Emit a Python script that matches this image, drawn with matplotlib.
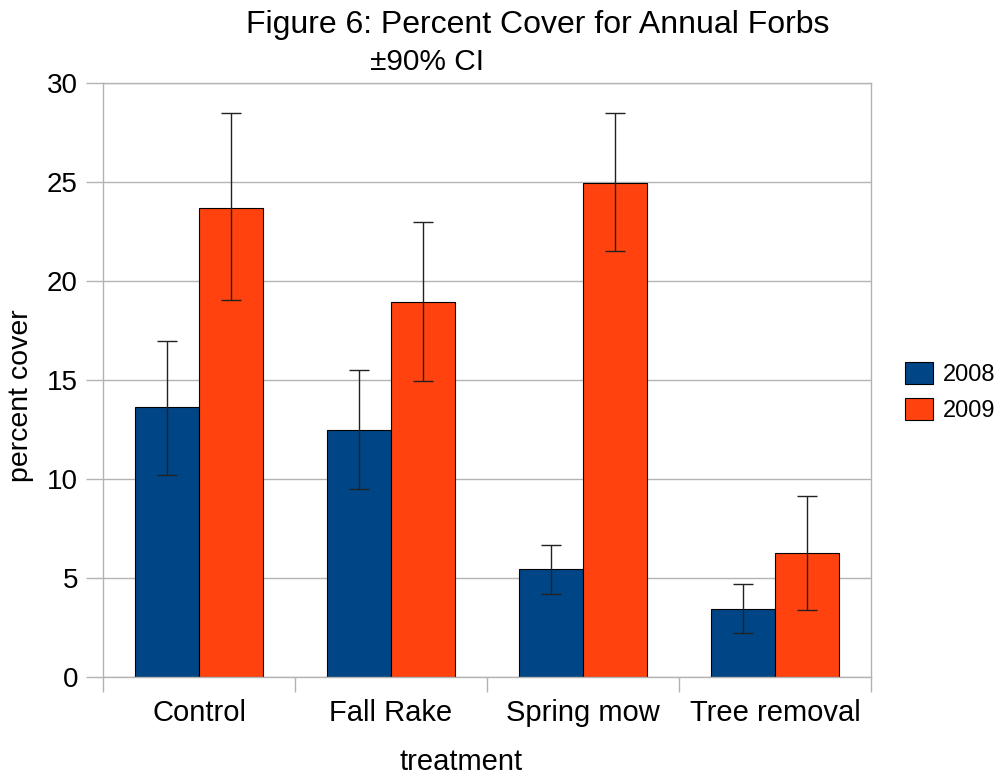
import matplotlib
matplotlib.use("Agg")
import matplotlib.pyplot as plt
import numpy as np

plt.rcParams['font.family'] = ['Liberation Sans', 'DejaVu Sans']

categories = ["Control", "Fall Rake", "Spring mow", "Tree removal"]
series_names = ["2008", "2009"]
values_2008 = [13.65, 12.48, 5.43, 3.44]
values_2009 = [23.69, 18.94, 24.95, 6.25]
upper_2008 = [16.98, 15.50, 6.69, 4.72]
lower_2008 = [10.18, 9.49, 4.18, 2.20]
upper_2009 = [28.46, 22.99, 28.46, 9.15]
lower_2009 = [19.03, 14.95, 21.50, 3.36]
yticks = [0, 5, 10, 15, 20, 25, 30]

c2008 = "#004586"
c2009 = "#ff420e"
grey = "#b3b3b3"

fig = plt.figure(figsize=(9.98, 7.75), dpi=100)
ax = fig.add_axes([103/998, 1-677/775, (871-103)/998, (677-83)/775])

x = np.arange(len(categories))
w = 0.335
v8 = np.array(values_2008); v9 = np.array(values_2009)
err8 = [v8 - np.array(lower_2008), np.array(upper_2008) - v8]
err9 = [v9 - np.array(lower_2009), np.array(upper_2009) - v9]

ax.bar(x - w/2, v8, w, color=c2008, edgecolor="black", linewidth=0.8, label=series_names[0], zorder=2)
ax.bar(x + w/2, v9, w, color=c2009, edgecolor="black", linewidth=0.8, label=series_names[1], zorder=2)
ax.errorbar(x - w/2, v8, yerr=err8, fmt='none', ecolor="#222222", elinewidth=1, capsize=7, capthick=1, zorder=3)
ax.errorbar(x + w/2, v9, yerr=err9, fmt='none', ecolor="#222222", elinewidth=1, capsize=7, capthick=1, zorder=3)

ax.set_xlim(-0.5, len(categories) - 0.5)
ax.set_ylim(0, 30)
ax.set_yticks(yticks)
ax.set_yticklabels([str(t) for t in yticks], fontsize=20)
ax.set_xticks(x)
ax.set_xticklabels(categories, fontsize=21)
ax.set_xticks(np.arange(-0.5, len(categories), 1.0), minor=True)
ax.tick_params(axis='x', which='major', length=0, pad=16)
ax.tick_params(axis='x', which='minor', length=11, color=grey, width=1)
ax.tick_params(axis='y', which='major', length=12, color=grey, width=1, pad=6)
ax.yaxis.grid(True, color=grey, linewidth=1, zorder=0)
ax.set_axisbelow(True)
for s in ax.spines.values():
    s.set_color(grey)
    s.set_linewidth(1)

fig.text(21/998, 1-396/775, "percent cover", rotation=90, fontsize=20.5, ha='center', va='center')
fig.text(461/998, 1-762/775, "treatment", fontsize=21, ha='center', va='center')
fig.text(538/998, 1-25/775, "Figure 6: Percent Cover for Annual Forbs", fontsize=23, ha='center', va='center')
fig.text(427/998, 1-62/775, "±90% CI", fontsize=21.5, ha='center', va='center')

leg = fig.legend(loc='upper left', bbox_to_anchor=(905/998, 1-362/775), frameon=False,
                 fontsize=17, handlelength=1.2, handleheight=1.05, handletextpad=0.4, labelspacing=0.5,
                 borderaxespad=0, borderpad=0)

fig.savefig("out.png", dpi=100)
